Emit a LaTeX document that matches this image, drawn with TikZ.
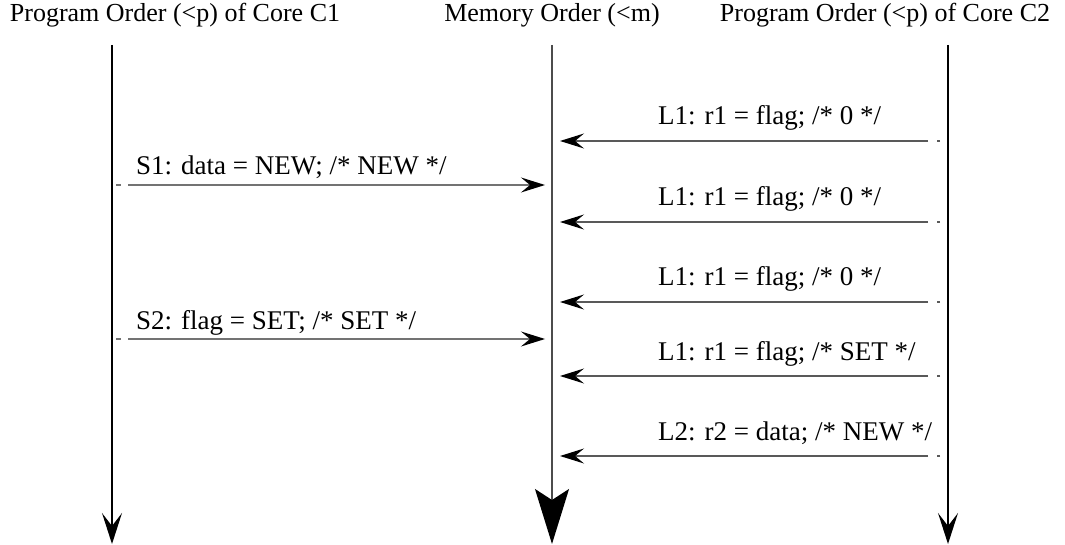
\documentclass[tikz,border=0pt]{standalone}
\usepackage{fontspec}
\setmainfont{Liberation Serif}
\usetikzlibrary{arrows.meta}
\begin{document}
\begin{tikzpicture}[x=1pt,y=-1pt,
  header/.style={anchor=base, inner sep=0pt, font=\fontsize{26}{30}\selectfont},
  lbl/.style={anchor=base west, inner sep=0pt, font=\fontsize{27}{31}\selectfont},
  timeline/.style={line width=1.4pt, -{Stealth[length=31pt,width=20pt,inset=13pt]}},
  memline/.style={line width=1.4pt, draw=black!70, -{Stealth[length=55pt,width=34pt,inset=11pt,color=black]}},
  lmsg/.style={line width=1.3pt, draw=black!55, dash pattern=on 5pt off 7pt on 2000pt,
    -{Stealth[length=24pt,width=15pt,inset=9pt,color=black]}},
  rmsg/.style={line width=1.3pt, draw=black!65, dash pattern=on 3pt off 9pt on 2000pt,
    -{Stealth[length=24pt,width=15pt,inset=9pt,color=black]}}
]
\useasboundingbox (0,0) rectangle (1065,545);

% headers
\node[header] (h1) at (175,22) {Program Order (<p) of Core C1};
\node[header] (hm) at (552,22) {Memory Order (<m)};
\node[header] (h2) at (885,22) {Program Order (<p) of Core C2};

% timelines
\coordinate (c1top) at (112,45);  \coordinate (c1bot) at (112,544);
\coordinate (mtop)  at (552,45);  \coordinate (mbot)  at (552,544);
\coordinate (c2top) at (948,45);  \coordinate (c2bot) at (948,544);
\draw[timeline] (c1top) -- (c1bot);
\draw[memline]  (mtop) -- (mbot);
\draw[timeline] (c2top) -- (c2bot);

% left messages (C1 -> memory)
\coordinate (s1a) at (116,185); \coordinate (s1b) at (545,185);
\coordinate (s2a) at (116,339); \coordinate (s2b) at (545,339);
\draw[lmsg] (s1a) -- (s1b);
\draw[lmsg] (s2a) -- (s2b);
\node[lbl] (s1l) at (136,175) {S1: data = NEW; /* NEW */};
\node[lbl] (s2l) at (136,329) {S2: flag = SET; /* SET */};

% right messages (C2 -> memory)
\foreach \y/\n in {141/a,222/b,302/c,376/d,456/e}{
  \coordinate (r\n a) at (940,\y); \coordinate (r\n b) at (560,\y);
  \draw[rmsg] (r\n a) -- (r\n b);
}
\node[lbl] (l1a) at (658,125) {L1: r1 = flag; /* 0 */};
\node[lbl] (l1b) at (658,206) {L1: r1 = flag; /* 0 */};
\node[lbl] (l1c) at (658,286) {L1: r1 = flag; /* 0 */};
\node[lbl] (l1d) at (658,360) {L1: r1 = flag; /* SET */};
\node[lbl] (l2e) at (658,440) {L2: r2 = data; /* NEW */};
\end{tikzpicture}
\end{document}
